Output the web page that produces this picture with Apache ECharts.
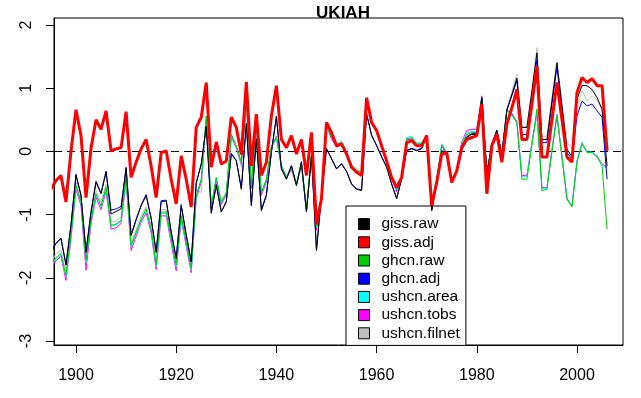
<!DOCTYPE html>
<html>
<head>
<meta charset="utf-8">
<title>UKIAH</title>
<script src="https://cdn.jsdelivr.net/npm/echarts@6/dist/echarts.min.js"></script>
<style>
  html, body { margin: 0; padding: 0; background: #fff; }
  #chart { width: 641px; height: 398px; }
</style>
</head>
<body>
<div id="chart"></div>
<script>
// annual anomalies, 1895..2006 (first point is clipped by the axis range)
const startYear = 1895;

const gissRaw = [
  -1.60, -1.46, -1.38, -1.80, -1.17, -0.38, -0.70, -1.60, -0.96, -0.49,
  -0.67, -0.33, -0.99, -0.95, -0.91, -0.27, -1.33, -1.09, -0.86, -0.70,
  -1.07, -1.60, -0.80, -0.78, -1.28, -1.70, -0.86, -1.33, -1.75, -0.50,
  -0.20, 0.40, -0.98, -0.54, -0.96, -0.80, -0.04, -0.15, -0.60, 0.43,
  -0.86, 0.19, -0.94, -0.70, -0.02, 0.55, -0.28, -0.44, -0.23, -0.54,
  -0.17, -0.96, -0.07, -1.57, -0.70, 0.04, -0.12, -0.28, -0.20, -0.32,
  -0.52, -0.60, -0.62, 0.59, 0.25, 0.09, -0.09, -0.25, -0.52, -0.75,
  -0.44, 0.01, 0.04, 0.01, 0.04, 0.25, -0.94, -0.49, 0.00, -0.02,
  -0.49, -0.31, 0.08, 0.22, 0.27, 0.27, 0.85, -0.35, 0.09, 0.33,
  -0.05, 0.65, 0.90, 1.16, 0.38, 0.38, 0.95, 1.56, 0.19, 0.19,
  0.80, 1.40, 0.72, 0.04, -0.09, 0.83, 1.04, 1.04, 0.98, 0.85,
  0.67, -0.23
];

const gissAdj = [
  -0.60, -0.46, -0.38, -0.80, 0.00, 0.66, 0.25, -0.73, 0.05, 0.50,
  0.35, 0.64, 0.01, 0.04, 0.06, 0.63, -0.41, -0.17, 0.04, 0.19,
  -0.23, -0.73, -0.02, 0.01, -0.44, -0.83, -0.07, -0.44, -0.88, 0.38,
  0.54, 1.09, -0.25, 0.15, -0.20, -0.15, 0.54, 0.38, -0.05, 1.10,
  -0.23, 0.59, -0.38, -0.17, 0.56, 1.04, 0.19, 0.06, 0.25, -0.04,
  0.19, -0.38, 0.30, -1.15, -0.75, 0.46, 0.30, 0.09, 0.12, -0.04,
  -0.25, -0.33, -0.38, 0.85, 0.46, 0.33, 0.09, -0.15, -0.41, -0.57,
  -0.41, 0.14, 0.17, 0.09, 0.09, 0.25, -0.86, -0.49, -0.04, -0.02,
  -0.49, -0.31, 0.06, 0.19, 0.22, 0.25, 0.75, -0.67, 0.09, 0.27,
  -0.17, 0.43, 0.69, 0.98, 0.19, 0.19, 0.75, 1.35, -0.09, -0.09,
  0.50, 1.09, 0.50, -0.09, -0.17, 0.93, 1.17, 1.09, 1.15, 1.04,
  1.04, 0.01
];

const ghcnRaw = [
  -1.80, -1.68, -1.62, -1.96, -1.33, -0.54, -0.80, -1.73, -1.09, -0.67,
  -0.86, -0.57, -1.17, -1.15, -1.09, -0.41, -1.49, -1.28, -1.07, -0.91,
  -1.23, -1.80, -0.96, -0.96, -1.38, -1.80, -1.02, -1.44, -1.86, -0.70,
  -0.44, 0.56, -0.86, -0.41, -0.80, -0.65, 0.27, 0.09, -0.17, 0.83,
  -0.54, 0.43, -0.65, -0.44, 0.09, 0.22, -0.22, -0.40, -0.25, -0.50,
  -0.20, -0.90, -0.05, -1.20, -0.70, 0.43, 0.22, 0.10, 0.14, -0.02,
  -0.22, -0.30, -0.34, 0.83, 0.46, 0.33, 0.09, -0.15, -0.41, -0.60,
  -0.41, 0.20, 0.22, 0.12, 0.12, 0.25, -0.86, -0.45, 0.10, -0.02,
  -0.45, -0.30, 0.10, 0.27, 0.30, 0.30, 0.85, -0.35, 0.12, 0.30,
  -0.05, 0.65, 0.58, 0.45, -0.44, -0.44, 0.10, 0.67, -0.62, -0.60,
  0.00, 0.56, -0.10, -0.75, -0.88, -0.17, 0.12, -0.02, -0.02, -0.09,
  -0.23, -1.23
];

const ghcnAdj = [
  -1.58, -1.45, -1.37, -1.79, -1.16, -0.36, -0.69, -1.58, -0.95, -0.47,
  -0.66, -0.31, -0.93, -0.91, -0.87, -0.25, -1.32, -1.07, -0.85, -0.68,
  -1.05, -1.58, -0.78, -0.77, -1.27, -1.68, -0.84, -1.31, -1.74, -0.50,
  -0.20, 0.40, -0.96, -0.52, -0.95, -0.79, -0.03, -0.14, -0.58, 0.45,
  -0.84, 0.20, -0.92, -0.68, -0.01, 0.56, -0.27, -0.43, -0.22, -0.53,
  -0.16, -0.95, -0.06, -1.55, -0.69, 0.05, -0.11, -0.27, -0.19, -0.31,
  -0.51, -0.59, -0.61, 0.60, 0.26, 0.10, -0.08, -0.24, -0.51, -0.74,
  -0.43, 0.02, 0.05, 0.02, 0.05, 0.26, -0.93, -0.48, 0.01, -0.01,
  -0.48, -0.30, 0.09, 0.23, 0.28, 0.28, 0.85, -0.34, 0.10, 0.34,
  -0.04, 0.66, 0.88, 1.12, 0.27, 0.27, 0.85, 1.45, 0.14, 0.14,
  0.75, 1.33, 0.65, -0.02, -0.12, 0.56, 0.80, 0.72, 0.75, 0.64,
  0.54, -0.44
];

const ushcnArea = [
  -1.82, -1.70, -1.64, -1.99, -1.35, -0.56, -0.82, -1.76, -1.11, -0.69,
  -0.88, -0.59, -1.19, -1.17, -1.11, -0.43, -1.51, -1.30, -1.09, -0.93,
  -1.25, -1.82, -0.98, -0.98, -1.40, -1.83, -1.04, -1.46, -1.88, -0.72,
  -0.45, 0.55, -0.87, -0.42, -0.81, -0.66, 0.26, 0.08, -0.18, 0.82,
  -0.55, 0.42, -0.66, -0.45, 0.08, 0.22, -0.23, -0.41, -0.26, -0.51,
  -0.21, -0.91, -0.06, -1.21, -0.71, 0.44, 0.24, 0.12, 0.16, 0.00,
  -0.20, -0.28, -0.32, 0.82, 0.45, 0.32, 0.08, -0.16, -0.42, -0.61,
  -0.42, 0.22, 0.24, 0.14, 0.14, 0.26, -0.86, -0.45, 0.12, -0.01,
  -0.45, -0.29, 0.12, 0.29, 0.32, 0.32, 0.85, -0.35, 0.12, 0.31,
  -0.05, 0.64, 0.57, 0.45, -0.40, -0.40, 0.12, 0.63, -0.59, -0.58,
  0.02, 0.58, -0.08, -0.74, -0.87, -0.16, 0.14, -0.01, -0.01, -0.08,
  -0.21, -0.27
];

const ushcnTobs = [
  -1.86, -1.73, -1.66, -2.04, -1.38, -0.60, -0.86, -1.88, -1.15, -0.73,
  -0.92, -0.63, -1.23, -1.21, -1.14, -0.47, -1.57, -1.34, -1.12, -0.97,
  -1.29, -1.87, -1.02, -1.02, -1.45, -1.89, -1.08, -1.50, -1.92, -0.75,
  -0.48, 0.52, -0.89, -0.45, -0.83, -0.68, 0.24, 0.06, -0.20, 0.80,
  -0.58, 0.40, -0.69, -0.48, 0.06, 0.24, -0.25, -0.43, -0.28, -0.54,
  -0.23, -0.95, -0.08, -1.25, -0.74, 0.42, 0.20, 0.07, 0.10, -0.06,
  -0.26, -0.34, -0.38, 0.82, 0.44, 0.31, 0.07, -0.17, -0.43, -0.64,
  -0.44, 0.18, 0.20, 0.10, 0.10, 0.24, -0.88, -0.47, 0.08, -0.04,
  -0.47, -0.28, 0.15, 0.33, 0.35, 0.35, 0.88, -0.36, 0.14, 0.33,
  -0.04, 0.66, 0.60, 0.47, -0.38, -0.38, 0.14, 0.59, -0.57, -0.57,
  0.03, 0.59, -0.08, -0.76, -0.86, -0.15, 0.14, -0.01, -0.01, -0.07,
  -0.20, -0.25
];

const ushcnFilnet = [
  -1.75, -1.62, -1.56, -1.92, -1.28, -0.48, -0.77, -1.68, -1.05, -0.62,
  -0.80, -0.52, -1.12, -1.10, -1.04, -0.38, -1.45, -1.24, -1.02, -0.87,
  -1.18, -1.75, -0.92, -0.92, -1.35, -1.78, -0.98, -1.40, -1.82, -0.60,
  -0.65, 0.50, -0.90, -0.45, -0.85, -0.70, 0.22, 0.05, -0.25, 0.75,
  -0.60, 0.38, -0.70, -0.48, 0.05, 0.20, -0.25, -0.42, -0.27, -0.52,
  -0.22, -0.92, -0.07, -1.22, -0.72, 0.42, 0.20, 0.09, 0.12, -0.04,
  -0.24, -0.32, -0.36, 0.82, 0.45, 0.32, 0.08, -0.16, -0.42, -0.62,
  -0.42, 0.18, 0.20, 0.10, 0.10, 0.24, -0.87, -0.46, 0.08, -0.03,
  -0.46, -0.30, 0.08, 0.24, 0.28, 0.28, 0.86, -0.34, 0.10, 0.34,
  -0.04, 0.68, 0.95, 1.22, 0.40, 0.40, 1.00, 1.64, 0.24, 0.24,
  0.85, 1.43, 0.78, 0.14, 0.04, 0.70, 0.96, 0.80, 0.88, 0.82,
  0.64, 0.64
];

const seriesNames = ['giss.raw', 'giss.adj', 'ghcn.raw', 'ghcn.adj', 'ushcn.area', 'ushcn.tobs', 'ushcn.filnet'];
const seriesValues = [gissRaw, gissAdj, ghcnRaw, ghcnAdj, ushcnArea, ushcnTobs, ushcnFilnet];
const seriesColors = ['#000000', '#FF0000', '#00CD00', '#0000FF', '#00FFFF', '#FF00FF', '#BEBEBE'];

const xTicks = [1900, 1920, 1940, 1960, 1980, 2000];
const yTicks = [-3, -2, -1, 0, 1, 2];

const font = 'Liberation Sans, Arial, sans-serif';

const toPairs = (vals) => vals.map((v, i) => [startYear + i, v]);

// R draws the later columns first, so the first names end up on top
const series = seriesNames.map((name, i) => ({
  name,
  type: 'line',
  data: toPairs(seriesValues[i]),
  showSymbol: false,
  symbol: 'none',
  clip: true,
  color: seriesColors[i],
  lineStyle: { color: seriesColors[i], width: name === 'giss.adj' ? 3 : 1 },
  z: name === 'giss.adj' ? 10 : 9 - i,
  animation: false
}));

series[1].markLine = {
  silent: true,
  symbol: ['none', 'none'],
  label: { show: false },
  lineStyle: { color: '#000', type: [8, 5], width: 1 },
  data: [{ yAxis: 0 }],
  animation: false
};

const chart = echarts.init(document.getElementById('chart'));

chart.setOption({
  backgroundColor: '#fff',
  animation: false,
  title: {
    text: 'UKIAH',
    left: 338,
    top: 0,
    textAlign: 'center',
    textStyle: { fontFamily: font, fontSize: 17, fontWeight: 'bold', color: '#000' }
  },
  grid: {
    left: 54, right: 18, top: 18, bottom: 53,
    show: true, borderColor: '#000', borderWidth: 1
  },
  legend: {
    data: seriesNames,
    orient: 'vertical',
    left: 346,
    top: 206,
    icon: 'rect',
    itemWidth: 11,
    itemHeight: 11,
    itemGap: 0,
    padding: [9, 6, 3, 12],
    borderColor: '#000',
    borderWidth: 1,
    backgroundColor: '#fff',
    itemStyle: { borderColor: '#000', borderWidth: 1 },
    textStyle: { fontFamily: font, fontSize: 15.5, color: '#000', lineHeight: 18.2, padding: [0, 0, 0, 7] }
  },
  xAxis: {
    type: 'value',
    min: 1895.61,
    max: 2009.18,
    axisLine: { onZero: false, lineStyle: { color: '#000' } },
    axisTick: { length: 8, lineStyle: { color: '#000' }, customValues: xTicks },
    axisLabel: {
      fontFamily: font, fontSize: 16, color: '#000', margin: 23,
      customValues: xTicks, formatter: (v) => String(v)
    },
    splitLine: { show: false }
  },
  yAxis: {
    type: 'value',
    min: -3.063,
    max: 2.111,
    axisLine: { show: true, lineStyle: { color: '#000' } },
    axisTick: { show: true, length: 8, lineStyle: { color: '#000' }, customValues: yTicks },
    axisLabel: {
      fontFamily: font, fontSize: 16, color: '#000', rotate: 90, margin: 19,
      customValues: yTicks, formatter: (v) => String(v)
    },
    splitLine: { show: false }
  },
  series
});
</script>
</body>
</html>
